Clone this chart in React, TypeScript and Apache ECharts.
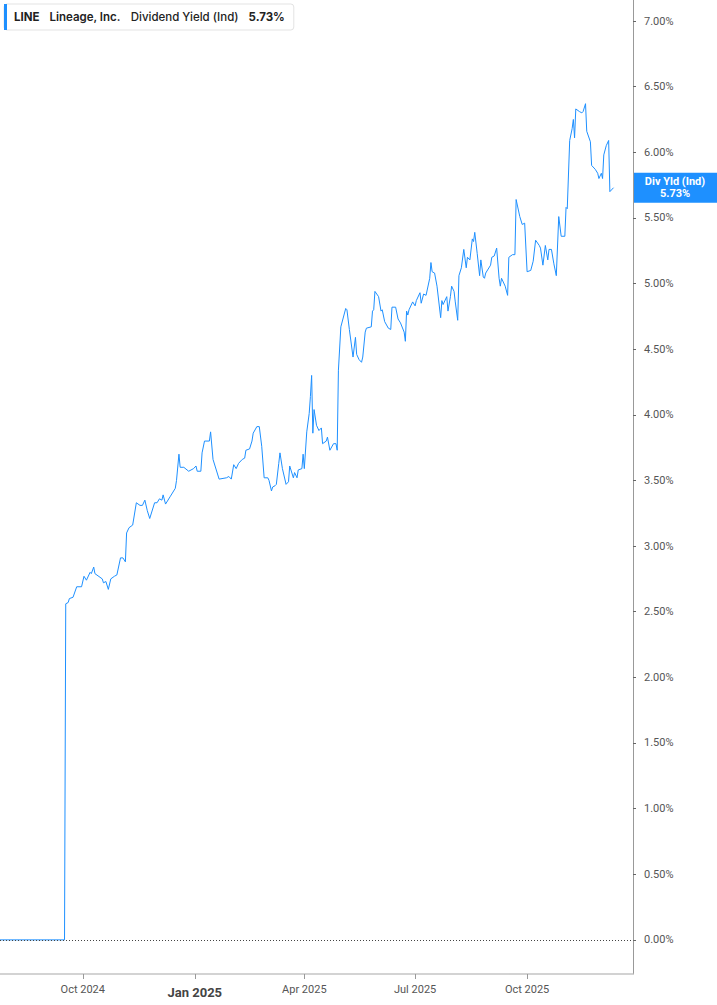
import React, { useEffect, useRef } from "react";
import * as echarts from "echarts";

const dates = [
  "2024-07-25","2024-09-16","2024-09-17","2024-09-19","2024-09-20","2024-09-23","2024-09-26","2024-09-30",
  "2024-10-02","2024-10-04","2024-10-07","2024-10-08","2024-10-10","2024-10-11","2024-10-17","2024-10-18",
  "2024-10-20","2024-10-22","2024-10-24","2024-10-27","2024-10-29","2024-11-01","2024-11-03","2024-11-05",
  "2024-11-06","2024-11-08","2024-11-11","2024-11-14","2024-11-17","2024-11-19","2024-11-21","2024-11-23",
  "2024-11-25","2024-11-29","2024-12-01","2024-12-03","2024-12-05","2024-12-06","2024-12-08","2024-12-12",
  "2024-12-16","2024-12-17","2024-12-19","2024-12-20","2024-12-23","2024-12-27","2024-12-31","2025-01-02",
  "2025-01-03","2025-01-06","2025-01-07","2025-01-09","2025-01-13","2025-01-14","2025-01-16","2025-01-21",
  "2025-01-27","2025-01-29","2025-01-31","2025-02-02","2025-02-04","2025-02-06","2025-02-09","2025-02-11",
  "2025-02-12","2025-02-15","2025-02-17","2025-02-18","2025-02-21","2025-02-23","2025-02-25","2025-02-27",
  "2025-03-02","2025-03-03","2025-03-05","2025-03-06","2025-03-08","2025-03-09","2025-03-11","2025-03-12",
  "2025-03-14","2025-03-17","2025-03-19","2025-03-20","2025-03-23","2025-03-24","2025-03-26","2025-03-27",
  "2025-03-30","2025-03-31","2025-04-01","2025-04-03","2025-04-05","2025-04-06","2025-04-07","2025-04-08",
  "2025-04-09","2025-04-11","2025-04-13","2025-04-15","2025-04-16","2025-04-19","2025-04-20","2025-04-22",
  "2025-04-25","2025-04-27","2025-04-28","2025-04-29","2025-05-01","2025-05-05","2025-05-06","2025-05-08",
  "2025-05-11","2025-05-13","2025-05-14","2025-05-16","2025-05-18","2025-05-19","2025-05-21","2025-05-22",
  "2025-05-26","2025-05-27","2025-05-28","2025-05-29","2025-06-01","2025-06-03","2025-06-04","2025-06-06",
  "2025-06-09","2025-06-11","2025-06-12","2025-06-15","2025-06-17","2025-06-19","2025-06-22","2025-06-23",
  "2025-06-24","2025-06-25","2025-06-26","2025-06-29","2025-07-01","2025-07-02","2025-07-05","2025-07-06",
  "2025-07-08","2025-07-10","2025-07-13","2025-07-14","2025-07-15","2025-07-17","2025-07-19","2025-07-22",
  "2025-07-23","2025-07-24","2025-07-27","2025-07-28","2025-07-30","2025-07-31","2025-08-02","2025-08-03",
  "2025-08-05","2025-08-06","2025-08-08","2025-08-10","2025-08-12","2025-08-13","2025-08-15","2025-08-17",
  "2025-08-18","2025-08-19","2025-08-21","2025-08-23","2025-08-24","2025-08-26","2025-08-27","2025-08-28",
  "2025-09-01","2025-09-02","2025-09-04","2025-09-06","2025-09-08","2025-09-09","2025-09-10","2025-09-13",
  "2025-09-15","2025-09-16","2025-09-19","2025-09-21","2025-09-22","2025-09-25","2025-09-27","2025-09-29",
  "2025-10-01","2025-10-04","2025-10-06","2025-10-08","2025-10-11","2025-10-12","2025-10-14","2025-10-16",
  "2025-10-18","2025-10-19","2025-10-21","2025-10-23","2025-10-25","2025-10-27","2025-10-29","2025-11-01",
  "2025-11-02","2025-11-03","2025-11-05","2025-11-07","2025-11-08","2025-11-09","2025-11-10","2025-11-13",
  "2025-11-15","2025-11-16","2025-11-18","2025-11-19","2025-11-22","2025-11-23","2025-11-25","2025-11-26",
  "2025-11-28","2025-11-29","2025-12-01","2025-12-02","2025-12-03","2025-12-05","2025-12-07","2025-12-08",
  "2025-12-10","2025-12-11",
];

const yields = [
  0,0,2.56,2.57,2.60,2.61,2.69,2.69,
  2.77,2.74,2.80,2.79,2.84,2.79,2.75,2.72,
  2.73,2.67,2.75,2.77,2.78,2.91,2.91,2.88,
  3.10,3.14,3.16,3.33,3.31,3.31,3.35,3.27,
  3.21,3.33,3.33,3.36,3.35,3.39,3.32,3.38,
  3.44,3.50,3.70,3.60,3.60,3.57,3.59,3.61,
  3.57,3.57,3.71,3.80,3.80,3.87,3.66,3.51,
  3.52,3.53,3.51,3.62,3.59,3.63,3.66,3.67,
  3.73,3.74,3.80,3.86,3.91,3.91,3.76,3.52,
  3.52,3.50,3.42,3.45,3.46,3.47,3.63,3.71,
  3.59,3.47,3.49,3.61,3.52,3.56,3.52,3.58,
  3.59,3.70,3.59,3.87,4.01,4.14,4.30,3.86,
  4.04,3.92,3.88,3.90,3.78,3.80,3.83,3.73,
  3.78,3.78,3.73,4.34,4.67,4.81,4.80,4.65,
  4.44,4.59,4.46,4.42,4.40,4.44,4.63,4.66,
  4.67,4.79,4.80,4.94,4.90,4.79,4.80,4.71,
  4.66,4.65,4.82,4.82,4.73,4.70,4.63,4.56,
  4.79,4.76,4.80,4.86,4.83,4.87,4.93,4.85,
  4.92,4.91,5.04,5.16,5.09,5.08,4.98,4.74,
  4.87,4.84,4.90,4.79,4.90,4.98,4.94,4.86,
  4.72,5.06,5.12,5.26,5.12,5.20,5.18,5.34,
  5.32,5.39,5.23,5.06,5.18,5.05,5.04,5.08,
  5.14,5.20,5.21,5.27,5.04,4.98,5.04,4.98,
  4.91,5.20,5.22,5.22,5.64,5.51,5.45,5.46,
  5.09,5.10,5.17,5.33,5.29,5.27,5.14,5.29,
  5.18,5.26,5.26,5.15,5.06,5.51,5.36,5.36,
  5.58,5.57,6.09,6.18,6.25,6.11,6.33,6.31,
  6.30,6.31,6.37,6.16,6.08,5.90,5.88,5.87,
  5.84,5.80,5.84,5.80,5.98,6.05,6.09,5.70,
  5.72,5.73,
];

const xRange = ["2024-07-25", "2025-12-27"];
const xTickDates = ["2024-10-01", "2025-01-01", "2025-04-01", "2025-07-01", "2025-10-01"];
const xTickLabels = ["Oct 2024", "Jan 2025", "Apr 2025", "Jul 2025", "Oct 2025"];
const yTicks = [0, 0.5, 1, 1.5, 2, 2.5, 3, 3.5, 4, 4.5, 5, 5.5, 6, 6.5, 7];

const ticker = "LINE";
const company = "Lineage, Inc.";
const metric = "Dividend Yield (Ind)";
const lastValue = 5.73;
const pointerName = "Div Yld (Ind)";

const BLUE = "#1E90FF";

function toTs(s: string) {
  const [y, m, d] = s.split("-").map(Number);
  return new Date(y, m - 1, d).getTime();
}

export default function App() {
  const ref = useRef<HTMLDivElement>(null);
  useEffect(() => {
    if (!ref.current) return;
    const chart = echarts.init(ref.current, null, { renderer: "svg" });
    const data = dates.map((d, i) => [toTs(d), yields[i]]);
    const tickTs = xTickDates.map(toTs);
    const xMax = toTs(xRange[1]);
    chart.setOption({
      animation: false,
      textStyle: { fontFamily: "Roboto, 'Noto Sans', sans-serif" },
      grid: { left: 0, right: 84, top: 0, bottom: 31, containLabel: false },
      legend: {
        show: true,
        left: 4,
        top: 4,
        selectedMode: false,
        backgroundColor: "#fff",
        borderColor: "#e3e3e3",
        borderWidth: 1,
        borderRadius: 3,
        padding: [0, 9, 0, 0],
        itemWidth: 3,
        itemHeight: 26,
        icon: "rect",
        data: [{ name: ticker }],
        formatter: () =>
          `{a|${ticker}}{b|${company}}{c|${metric}}{d|${lastValue.toFixed(2)}%}`,
        textStyle: {
          fontFamily: "Inter, Roboto, sans-serif",
          rich: {
            a: { fontSize: 11.5, fontWeight: 700, color: "#222", padding: [0, 10, 0, 2], fontFamily: "Inter" },
            b: { fontSize: 11.5, fontWeight: 600, color: "#222", padding: [0, 10, 0, 0], fontFamily: "Inter" },
            c: { fontSize: 11.5, fontWeight: 500, color: "#222", padding: [0, 10, 0, 0], fontFamily: "Inter" },
            d: { fontSize: 11.5, fontWeight: 700, color: "#222", fontFamily: "Inter" },
          },
        },
      },
      xAxis: {
        type: "value",
        min: toTs(xRange[0]),
        max: xMax,
        axisLine: { show: true, onZero: false, lineStyle: { color: "#c4c4c4", width: 1.5 } },
        axisTick: { show: true, customValues: tickTs, length: 5, lineStyle: { color: "#999" } },
        splitLine: { show: false },
        axisLabel: {
          customValues: tickTs,
          margin: 10,
          formatter: (v: number) => {
            let i = -1;
            tickTs.forEach((t, k) => {
              if (Math.abs(t - v) < 3600000) i = k;
            });
            const lab = i >= 0 ? xTickLabels[i] : "";
            return lab.startsWith("Jan") ? `{y|${lab}}` : `{m|${lab}}`;
          },
          rich: {
            m: { fontSize: 11, color: "#555", fontFamily: "Roboto" },
            y: { fontSize: 13, fontWeight: 700, color: "#444", fontFamily: "Roboto", padding: [2, 0, 0, 0] },
          },
        },
      },
      yAxis: {
        type: "value",
        position: "right",
        min: -0.26,
        max: 7.16,
        axisLine: { show: true, lineStyle: { color: "#999", width: 1 } },
        axisTick: { show: true, customValues: yTicks, length: 3, lineStyle: { color: "#666" } },
        splitLine: { show: false },
        axisLabel: {
          customValues: yTicks,
          margin: 11,
          fontSize: 11,
          color: "#555",
          fontFamily: "Roboto",
          formatter: (v: number) => `${v.toFixed(2)}%`,
        },
      },
      series: [
        {
          name: ticker,
          type: "line",
          data,
          showSymbol: false,
          symbol: "none",
          color: BLUE,
          lineStyle: { color: BLUE, width: 1 },
          silent: true,
          markLine: {
            silent: true,
            symbol: ["none", "none"],
            label: { show: false },
            lineStyle: { color: "#444", width: 1, type: [1, 2] },
            data: [{ yAxis: 0 }],
          },
        },
      ],
    });

    const py = chart.convertToPixel({ yAxisIndex: 0 }, lastValue) as number;
    const px = chart.convertToPixel({ xAxisIndex: 0 }, xMax) as number;
    const boxW = 717 - px;
    const boxH = 30;
    chart.setOption({
      graphic: [
        {
          type: "group",
          x: px,
          y: py - boxH / 2,
          silent: true,
          z: 100,
          children: [
            { type: "rect", shape: { x: 0, y: 0, width: boxW, height: boxH }, style: { fill: BLUE } },
            {
              type: "text",
              x: boxW / 2,
              y: 9,
              style: {
                text: pointerName,
                fill: "#fff",
                font: "bold 11px Roboto",
                align: "center",
                verticalAlign: "middle",
              },
            },
            {
              type: "text",
              x: boxW / 2,
              y: 21,
              style: {
                text: `${lastValue.toFixed(2)}%`,
                fill: "#fff",
                font: "bold 11px Roboto",
                align: "center",
                verticalAlign: "middle",
              },
            },
          ],
        },
      ],
    });
    return () => chart.dispose();
  }, []);
  return (
    <div
      ref={ref}
      style={{ position: "absolute", left: 0, top: 0, width: 717, height: 1005 }}
    />
  );
}
